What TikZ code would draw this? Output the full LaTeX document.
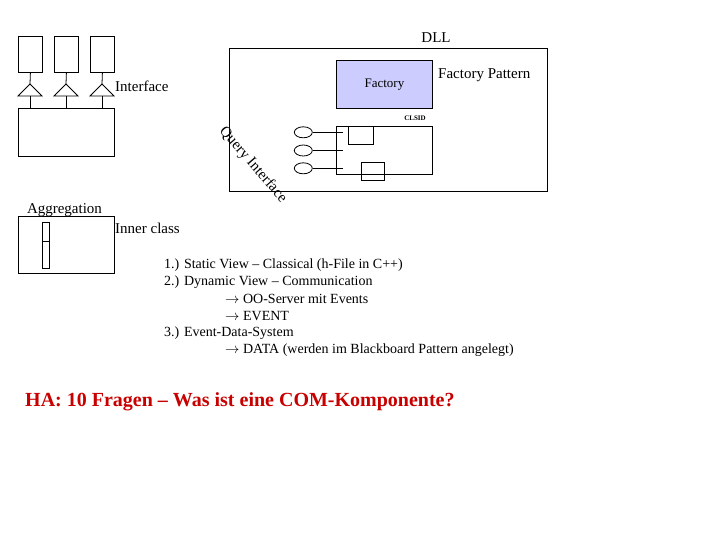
\documentclass[tikz,border=0pt]{standalone}
\usepackage{fontspec}
\setmainfont{Liberation Serif}
\usetikzlibrary{shapes.geometric}
\definecolor{factfill}{RGB}{204,204,255}
\definecolor{hared}{RGB}{200,0,0}
\begin{document}
\begin{tikzpicture}[x=1pt,y=-1pt,
  box/.style={draw, line width=0.8pt, inner sep=0pt, anchor=north west},
  oval/.style={draw, ellipse, line width=0.8pt, minimum width=18pt, minimum height=11pt, inner sep=0pt},
  wire/.style={line width=0.8pt},
  lbl/.style={inner sep=0pt, font=\fontsize{15}{17}\selectfont},
  lst/.style={inner sep=0pt, anchor=west, font=\fontsize{14}{16}\selectfont}]
\useasboundingbox (0,0) rectangle (720,540);
% top-left interfaces
\node[box, minimum width=24pt, minimum height=36pt] (b1) at (18,36) {};
\node[box, minimum width=24pt, minimum height=36pt] (b2) at (54,36) {};
\node[box, minimum width=24pt, minimum height=36pt] (b3) at (90,36) {};
\node[box, minimum width=96pt, minimum height=48pt] (big) at (18,108) {};
\foreach \i/\x in {1/30,2/66,3/102}{
  \coordinate (t\i) at (\x,84);
  \coordinate (tb\i) at (\x,96);
  \draw[wire] (t\i) -- ++(-12,12) -- ++(24,0) -- cycle;
  \draw[wire] (b\i.south) -- (t\i);
  \draw[wire] (tb\i) -- (tb\i |- big.north);
}
\node[lbl, anchor=west] (iface) at (115,86.5) {Interface};
% DLL
\node[box, minimum width=318pt, minimum height=143pt] (dll) at (229,48) {};
\node[lbl] (dlltxt) at (436,38) {DLL};
\node[box, fill=factfill, minimum width=96pt, minimum height=48pt] (fact) at (336,60) {};
\node[inner sep=0pt, font=\fontsize{13}{15}\selectfont] (facttxt) at (fact.center) {Factory};
\node[lbl, anchor=west] (fp) at (438,75) {Factory Pattern};
\node[inner sep=0pt, font=\fontsize{7}{8}\selectfont\bfseries] (clsid) at (415,118) {CLSID};
\node[box, minimum width=96pt, minimum height=48pt] (inner) at (336,126) {};
\node[box, minimum width=24.5pt, minimum height=18pt] (ib1) at (348.3,126) {};
\node[box, minimum width=23.5pt, minimum height=18pt] (ib2) at (360.7,162.3) {};
\foreach \i/\y in {1/132.3,2/150.5,3/168.3}{
  \node[oval] (e\i) at (303.3,\y) {};
  \coordinate (c\i) at (342.7,\y);
  \draw[wire] (e\i.east) -- (c\i);
}
\node[lbl, rotate=-49] (qi) at (253,165) {Query Interface};
% aggregation
\node[lbl] (agg) at (64.5,210) {Aggregation};
\node[box, minimum width=96pt, minimum height=57pt] (aggbox) at (18,216) {};
\node[box, minimum width=7pt, minimum height=46pt] (thin) at (42,221.7) {};
\draw[wire] (thin.west |- 0,241) -- (thin.east |- 0,241);
\node[lbl, anchor=west] (ic) at (115,228.3) {Inner class};
% list
\node[lst] (l1) at (164,265) {1.) Static View – Classical (h-File in C++)};
\node[lst] (l2) at (164,282) {2.) Dynamic View – Communication};
\node[lst] (l3) at (225,299) {$\rightarrow$ OO-Server mit Events};
\node[lst] (l4) at (225,316.5) {$\rightarrow$ EVENT};
\node[lst] (l5) at (164,333) {3.) Event-Data-System};
\node[lst] (l6) at (225,350) {$\rightarrow$ DATA (werden im Blackboard Pattern angelegt)};
\node[inner sep=0pt, anchor=west, text=hared, font=\fontsize{20}{22}\selectfont\bfseries] (ha) at (25,401.7) {HA: 10 Fragen – Was ist eine COM-Komponente?};
\end{tikzpicture}
\end{document}
